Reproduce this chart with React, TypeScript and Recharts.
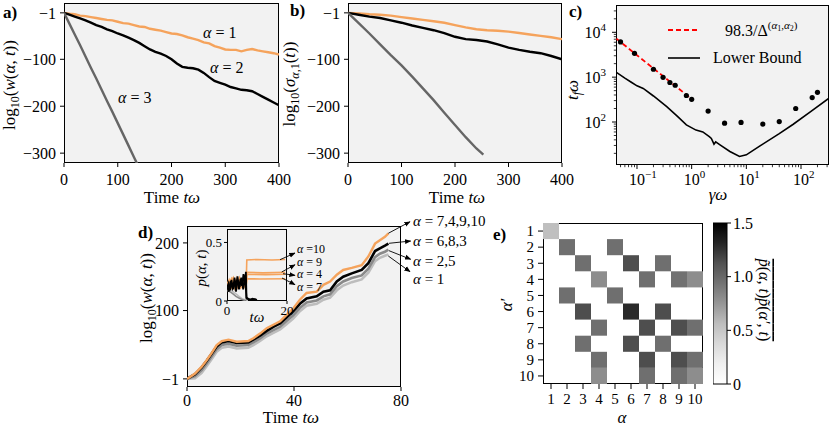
import React from 'react';
import { LineChart, Line, XAxis, YAxis, ComposedChart, Scatter, ReferenceArea } from 'recharts';

const FONT = '"Liberation Serif", "DejaVu Serif", serif';
const BG = '#f2f2f2';
const ORANGE = '#f5a35c';
const DARK_GRAY = '#666666';
const MID_GRAY = '#8a8a8a';
const LIGHT_GRAY = '#bdbdbd';

// a) log10 w(alpha, t)
const A_TIME = [0, 10, 20, 30, 40, 50, 60, 70, 80, 90, 100, 110, 120, 130, 140, 150, 160, 170, 180, 190, 200, 210, 220, 230, 240, 250, 260, 270, 280, 290, 300, 310, 320, 330, 340, 350, 360, 370, 380, 390, 400];
const A_ALPHA1 = [-1, -3, -4, -7, -8, -10, -12, -14, -16, -17, -20, -23, -24, -27, -30, -31, -35, -37, -39, -42, -45, -46, -49, -53, -56, -59, -64, -66, -72, -75, -79, -80, -80, -83, -80, -78, -81, -83, -85, -87, -90];
const A_ALPHA2 = [-1, -5, -9, -13, -17, -22, -27, -31, -36, -40, -45, -49, -54, -59, -65, -72, -79, -84, -88, -93, -100, -109, -116, -118, -119, -122, -129, -138, -146, -150, -154, -159, -162, -165, -166, -168, -174, -180, -186, -192, -198];
const A3_TIME = [0, 10, 20, 30, 40, 50, 60, 70, 80, 90, 100, 110, 120, 130, 140];
const A_ALPHA3 = [-1, -24, -47, -70, -94, -118, -141, -165, -189, -212, -236, -260, -284, -308, -332];

// b) log10 sigma_{alpha,1}(t)
const B_TIME = [0, 20, 40, 60, 80, 100, 120, 140, 160, 180, 200, 220, 240, 260, 280, 300, 320, 340, 360, 380, 400];
const B_ALPHA1 = [-1, -2, -4, -5, -7, -10, -13, -16, -19, -22, -27, -32, -36, -38, -39, -41, -44, -47, -50, -53, -57];
const B_ALPHA2 = [-1, -5, -9, -12, -17, -22, -28, -33, -38, -44, -52, -57, -59, -62, -68, -75, -80, -84, -87, -93, -100];
const B3_TIME = [0, 20, 40, 60, 80, 100, 120, 140, 160, 180, 200, 220, 240, 253];
const B_ALPHA3 = [-1, -23, -45, -68, -91, -113, -137, -162, -187, -214, -240, -266, -290, -303];
const LIN_TICKS = [0, 100, 200, 300, 400];
const NEG_TICKS = [-1, -100, -200, -300];

// c) t_f omega vs gamma omega
const C_LB_X = [0.0413, 0.06, 0.08, 0.1, 0.13, 0.2, 0.35, 0.55, 0.8, 1.2, 1.6, 2.1, 2.29, 2.56, 2.75, 3.3, 5, 7.5, 10, 17.5, 40, 71, 150, 325];
const C_LB_Y = [1300, 950, 760, 640, 560, 380, 220, 133, 86, 66, 60, 47, 43, 32, 36, 31, 22, 17, 18.5, 29, 55, 88, 170, 340];
const C_FIT_X = [0.042, 1.05];
const C_FIT_Y = [7200, 310];
const C_DOT_X = [0.05, 0.09, 0.2, 0.3, 0.4, 0.5, 0.8, 1, 2, 4, 8, 20, 40, 80, 160, 200];
const C_DOT_Y = [6100, 3400, 1500, 990, 760, 660, 390, 320, 175, 94, 98, 90, 102, 200, 350, 460];
const C_X_TICKS = [0.05, 0.06, 0.07, 0.08, 0.09, 0.1, 0.2, 0.3, 0.4, 0.5, 0.6, 0.7, 0.8, 0.9, 1, 2, 3, 4, 5, 6, 7, 8, 9, 10, 20, 30, 40, 50, 60, 70, 80, 90, 100, 200, 300];
const C_Y_TICKS = [20, 30, 40, 50, 60, 70, 80, 90, 100, 200, 300, 400, 500, 600, 700, 800, 900, 1000, 2000, 3000, 4000, 5000, 6000, 7000, 8000, 9000, 10000, 20000, 30000];

// d) log10 w(alpha, t) for ten states
const D_TIME = [0, 3, 5.5, 7.4, 9.2, 11.1, 13, 15.5, 18.6, 22.9, 24.8, 27.3, 29.8, 32.3, 34.8, 37.3, 39.7, 42.2, 44.7, 48.5, 51, 53.5, 56, 58.4, 61.6, 65.3, 67.8, 70.3, 72.1, 74, 75.3];
const D_A7_4_9_10 = [-1, 7, 17, 27, 37, 49, 55, 57, 54, 55, 59, 66, 74, 79, 84, 94, 103, 116, 126, 128, 138, 143, 153, 160, 163, 167, 180, 199, 204, 209, 214];
const D_A6_8_3 = [-1, 6, 16, 26, 36, 47, 53, 55, 52, 53, 57, 63, 70, 76, 81, 90, 99, 110, 118, 121, 128, 130, 143, 150, 155, 160, 170, 188, 192, 196, 199];
const D_A2_5 = [-1, 3, 12, 22, 32, 43, 49, 51, 48, 49, 53, 59, 66, 71, 76, 85, 93, 104, 112, 115, 121, 124, 136, 143, 148, 152, 162, 179, 184, 187, 190];
const D_A1 = [-1, 0, 8, 18, 28, 39, 45, 47, 44, 45, 49, 55, 62, 67, 72, 80, 88, 99, 107, 110, 116, 119, 130, 137, 142, 146, 156, 173, 178, 181, 183];
const D_TICKS_X = [0, 40, 80];
const D_TICKS_Y = [-1, 100, 200];

// d) inset p(alpha, t)
const IN_O10_T = [0, 0.7, 1.3, 2, 2.6, 3.3, 4, 4.6, 5.3, 6, 6.4, 6.6, 10, 15, 19.4];
const IN_O10_P = [0.14, 0.18, 0.12, 0.16, 0.11, 0.19, 0.13, 0.17, 0.12, 0.2, 0.16, 0.35, 0.355, 0.35, 0.355];
const IN_O9_T = [0, 0.8, 1.5, 2.2, 2.9, 3.6, 4.3, 5, 5.7, 6.4, 6.6, 12, 19.4];
const IN_O9_P = [0.1, 0.15, 0.19, 0.13, 0.17, 0.12, 0.18, 0.14, 0.16, 0.13, 0.245, 0.24, 0.245];
const IN_O4_T = [0, 0.6, 1.4, 2.1, 2.8, 3.5, 4.2, 4.9, 5.6, 6.4, 6.6, 13, 19.4];
const IN_O4_P = [0.16, 0.12, 0.17, 0.2, 0.14, 0.16, 0.2, 0.13, 0.18, 0.15, 0.228, 0.225, 0.228];
const IN_O7_T = [0, 0.9, 1.6, 2.4, 3.1, 3.8, 4.5, 5.2, 5.9, 6.4, 6.6, 11, 19.4];
const IN_O7_P = [0.12, 0.14, 0.11, 0.15, 0.1, 0.14, 0.11, 0.15, 0.12, 0.14, 0.19, 0.188, 0.19];
const IN_B1_T = [0, 0.5, 1, 1.5, 2, 2.5, 3, 3.5, 4, 4.5, 5, 5.5, 6, 6.3, 6.5, 7.5, 8.5, 10];
const IN_B1_P = [0.11, 0.15, 0.09, 0.18, 0.1, 0.2, 0.12, 0.21, 0.1, 0.19, 0.13, 0.23, 0.14, 0.25, 0.03, 0.01, 0.02, 0.01];
const IN_B2_T = [0, 0.6, 1.2, 1.8, 2.4, 3, 3.6, 4.2, 4.8, 5.4, 6, 6.5, 8, 9.5];
const IN_B2_P = [0.13, 0.08, 0.17, 0.11, 0.16, 0.08, 0.18, 0.12, 0.2, 0.1, 0.22, 0.02, 0.01, 0.015];
const IN_G1_T = [0, 1, 2, 3, 4, 5, 6, 7];
const IN_G1_P = [0.12, 0.1, 0.08, 0.06, 0.04, 0.02, 0.01, 0.005];
const IN_G2_T = [0, 1, 2, 3, 4, 5, 6];
const IN_G2_P = [0.09, 0.08, 0.06, 0.04, 0.025, 0.012, 0.005];

// e) correlation map, rows alpha' = 1..10, columns alpha = 1..10
const E_INDEX = [1, 2, 3, 4, 5, 6, 7, 8, 9, 10];
const E_ROWS = [
  [0.55, 0, 0, 0, 0, 0, 0, 0, 0, 0],
  [0, 0.96, 0, 0, 0.96, 0, 0, 0, 0, 0],
  [0, 0, 0.96, 0, 0, 1.14, 0, 0.96, 0, 0],
  [0, 0, 0, 0.8, 0, 0, 0.96, 0, 0.95, 0.8],
  [0, 0.96, 0, 0, 0.96, 0, 0, 0, 0, 0],
  [0, 0, 1.14, 0, 0, 1.29, 0, 1.14, 0, 0],
  [0, 0, 0, 0.96, 0, 0, 1.14, 0, 1.14, 0.96],
  [0, 0, 0.96, 0, 0, 1.14, 0, 0.96, 0, 0],
  [0, 0, 0, 0.96, 0, 0, 1.14, 0, 1.14, 0.96],
  [0, 0, 0, 0.8, 0, 0, 0.96, 0, 0.96, 0.8],
];
const CB_TICKS = [0, 0.5, 1, 1.5];
const GREYS = [255, 240, 217, 189, 150, 115, 82, 37, 0];

const pts = (xs: number[], ys: number[]) => xs.map((x, i) => ({ x, y: ys[i] }));
const minus = (v: number) => (v < 0 ? '\u2212' + Math.abs(v) : String(v));
const grey = (v: number) => {
  const f = Math.min(1, Math.max(0, v / 1.5)) * 8;
  const i = Math.min(7, Math.floor(f));
  const g = Math.round(GREYS[i] + (GREYS[i + 1] - GREYS[i]) * (f - i));
  return `rgb(${g},${g},${g})`;
};

type Box = { L: number; T: number; R: number; B: number };
const BOX_A: Box = { L: 64, T: 3, R: 279, B: 163 };
const BOX_B: Box = { L: 348, T: 3, R: 562, B: 163 };
const BOX_C: Box = { L: 616, T: 5, R: 829, B: 165 };
const BOX_D: Box = { L: 187, T: 226, R: 401, B: 387 };
const BOX_IN: Box = { L: 227, T: 229, R: 287, B: 301 };
const BOX_E: Box = { L: 543, T: 223, R: 703, B: 384 };
const BOX_CB: Box = { L: 713, T: 223, R: 727, B: 384 };

const place = (b: Box, yw: number, xh: number, mr: number, mt: number) => ({
  style: { position: 'absolute' as const, left: b.L - yw, top: b.T - mt },
  width: b.R - b.L + yw + mr,
  height: b.B - b.T + xh + mt,
  margin: { top: mt, right: mr, bottom: 0, left: 0 },
});

const Frame = ({ b, bg }: { b: Box; bg: string }) => (
  <div style={{ position: 'absolute', left: b.L, top: b.T, width: b.R - b.L, height: b.B - b.T, background: bg, border: '1px solid #000', boxSizing: 'border-box' }} />
);

const tick = (size: number) => ({ fill: '#000', fontSize: size, fontFamily: FONT });
const line = { dot: false, activeDot: false, isAnimationActive: false, dataKey: 'y', type: 'linear' as const };

const isMajor = (v: number) => Math.abs(Math.log10(v) - Math.round(Math.log10(v))) < 1e-6;
const expText = (v: number) => minus(Math.round(Math.log10(v)));

const LogTickX = (p: any) => {
  const v = p.payload.value;
  const major = isMajor(v);
  return (
    <g>
      <line x1={p.x} x2={p.x} y1={p.y} y2={p.y + (major ? 4 : 2.2)} stroke="#000" strokeWidth={major ? 1 : 0.8} />
      {major && (
        <text x={p.x - 8} y={p.y + 20} fontFamily={FONT} fontSize={16} fill="#000">
          10<tspan dy={-7} fontSize={11}>{expText(v)}</tspan>
        </text>
      )}
    </g>
  );
};

const LogTickY = (p: any) => {
  const v = p.payload.value;
  const major = isMajor(v);
  return (
    <g>
      <line x1={p.x - (major ? 4 : 2.2)} x2={p.x} y1={p.y} y2={p.y} stroke="#000" strokeWidth={major ? 1 : 0.8} />
      {major && (
        <text x={p.x - 10} y={p.y + 5.5} textAnchor="end" fontFamily={FONT} fontSize={16} fill="#000">
          10<tspan dy={-7} fontSize={11}>{expText(v)}</tspan>
        </text>
      )}
    </g>
  );
};

const Dot = (p: any) => <circle cx={p.cx} cy={p.cy} r={2.6} fill="#000" />;
const Nothing = () => <g />;

function PanelA() {
  const pl = place(BOX_A, 64, 30, 16, 3);
  return (
    <div style={pl.style}>
      <LineChart width={pl.width} height={pl.height} margin={pl.margin}>
        <XAxis dataKey="x" type="number" domain={[0, 400]} ticks={LIN_TICKS} interval={0} allowDataOverflow axisLine={false} tickLine={{ stroke: '#000' }} tickSize={4} tickMargin={7} height={30} tick={tick(16)} />
        <YAxis type="number" domain={[-321, 20]} ticks={NEG_TICKS} interval={0} allowDataOverflow axisLine={false} tickLine={{ stroke: '#000' }} tickSize={4} tickMargin={4} width={64} tick={tick(16)} tickFormatter={minus} />
        <Line {...line} data={pts(A_TIME, A_ALPHA1)} stroke={ORANGE} strokeWidth={2.4} />
        <Line {...line} data={pts(A_TIME, A_ALPHA2)} stroke="#000" strokeWidth={2.4} />
        <Line {...line} data={pts(A3_TIME, A_ALPHA3)} stroke={DARK_GRAY} strokeWidth={2.4} />
      </LineChart>
    </div>
  );
}

function PanelB() {
  const pl = place(BOX_B, 60, 30, 16, 3);
  return (
    <div style={pl.style}>
      <LineChart width={pl.width} height={pl.height} margin={pl.margin}>
        <XAxis dataKey="x" type="number" domain={[0, 400]} ticks={LIN_TICKS} interval={0} allowDataOverflow axisLine={false} tickLine={{ stroke: '#000' }} tickSize={4} tickMargin={7} height={30} tick={tick(16)} />
        <YAxis type="number" domain={[-321, 20]} ticks={NEG_TICKS} interval={0} allowDataOverflow axisLine={false} tickLine={{ stroke: '#000' }} tickSize={4} tickMargin={4} width={60} tick={tick(16)} tickFormatter={minus} />
        <Line {...line} data={pts(B_TIME, B_ALPHA1)} stroke={ORANGE} strokeWidth={2.4} />
        <Line {...line} data={pts(B_TIME, B_ALPHA2)} stroke="#000" strokeWidth={2.4} />
        <Line {...line} data={pts(B3_TIME, B_ALPHA3)} stroke={DARK_GRAY} strokeWidth={2.4} />
      </LineChart>
    </div>
  );
}

function PanelC() {
  const pl = place(BOX_C, 50, 30, 1, 5);
  return (
    <div style={pl.style}>
      <ComposedChart width={pl.width} height={pl.height} margin={pl.margin}>
        <XAxis dataKey="x" type="number" scale="log" domain={[0.0413, 325]} ticks={C_X_TICKS} interval={0} allowDataOverflow axisLine={false} tickLine={false} tickSize={0} tickMargin={0} height={30} tick={LogTickX} />
        <YAxis dataKey="y" type="number" scale="log" domain={[11, 40600]} ticks={C_Y_TICKS} interval={0} allowDataOverflow axisLine={false} tickLine={false} tickSize={0} tickMargin={0} width={50} tick={LogTickY} />
        <Line {...line} data={pts(C_LB_X, C_LB_Y)} stroke="#000" strokeWidth={1.6} />
        <Line {...line} data={pts(C_FIT_X, C_FIT_Y)} stroke="#ff0000" strokeWidth={1.8} strokeDasharray="5 3" />
        <Scatter data={pts(C_DOT_X, C_DOT_Y)} shape={Dot} isAnimationActive={false} />
      </ComposedChart>
    </div>
  );
}

function PanelD() {
  const pl = place(BOX_D, 45, 25, 14, 10);
  return (
    <div style={pl.style}>
      <LineChart width={pl.width} height={pl.height} margin={pl.margin}>
        <XAxis dataKey="x" type="number" domain={[0, 80]} ticks={D_TICKS_X} interval={0} allowDataOverflow axisLine={false} tickLine={{ stroke: '#000' }} tickSize={4} tickMargin={4} height={25} tick={tick(16)} />
        <YAxis type="number" domain={[-13, 225]} ticks={D_TICKS_Y} interval={0} allowDataOverflow axisLine={false} tickLine={{ stroke: '#000' }} tickSize={4} tickMargin={4} width={45} tick={tick(16)} tickFormatter={minus} />
        <Line {...line} data={pts(D_TIME, D_A1)} stroke={LIGHT_GRAY} strokeWidth={2.6} />
        <Line {...line} data={pts(D_TIME, D_A2_5)} stroke={MID_GRAY} strokeWidth={2.6} />
        <Line {...line} data={pts(D_TIME, D_A6_8_3)} stroke="#000" strokeWidth={2.6} />
        <Line {...line} data={pts(D_TIME, D_A7_4_9_10)} stroke={ORANGE} strokeWidth={2.4} />
      </LineChart>
    </div>
  );
}

function Inset() {
  const pl = place(BOX_IN, 30, 18, 10, 4);
  return (
    <div style={pl.style}>
      <LineChart width={pl.width} height={pl.height} margin={pl.margin}>
        <XAxis dataKey="x" type="number" domain={[0, 20]} ticks={[0, 20]} interval={0} allowDataOverflow axisLine={false} tickLine={{ stroke: '#000' }} tickSize={3} tickMargin={2} height={18} tick={tick(13)} />
        <YAxis type="number" domain={[0, 0.615]} ticks={[0, 0.5]} interval={0} allowDataOverflow axisLine={false} tickLine={{ stroke: '#000' }} tickSize={3} tickMargin={2} width={30} tick={tick(13)} />
        <Line {...line} data={pts(IN_G1_T, IN_G1_P)} stroke={LIGHT_GRAY} strokeWidth={1.6} />
        <Line {...line} data={pts(IN_G2_T, IN_G2_P)} stroke={MID_GRAY} strokeWidth={1.6} />
        <Line {...line} data={pts(IN_O10_T, IN_O10_P)} stroke={ORANGE} strokeWidth={1.6} />
        <Line {...line} data={pts(IN_O9_T, IN_O9_P)} stroke={ORANGE} strokeWidth={1.6} />
        <Line {...line} data={pts(IN_O4_T, IN_O4_P)} stroke={ORANGE} strokeWidth={1.6} />
        <Line {...line} data={pts(IN_O7_T, IN_O7_P)} stroke={ORANGE} strokeWidth={1.6} />
        <Line {...line} data={pts(IN_B1_T, IN_B1_P)} stroke="#000" strokeWidth={1.8} />
        <Line {...line} data={pts(IN_B2_T, IN_B2_P)} stroke="#000" strokeWidth={1.8} />
      </LineChart>
    </div>
  );
}

function PanelE() {
  const pl = place(BOX_E, 40, 25, 10, 5);
  const cells: { x: number; y: number; v: number }[] = [];
  E_ROWS.forEach((row, r) => row.forEach((v, c) => { if (v > 0) cells.push({ x: E_INDEX[c], y: E_INDEX[r], v }); }));
  return (
    <div style={pl.style}>
      <ComposedChart width={pl.width} height={pl.height} margin={pl.margin}>
        <XAxis dataKey="x" type="number" domain={[0.5, 10.5]} ticks={E_INDEX} interval={0} allowDataOverflow axisLine={false} tickLine={{ stroke: '#000' }} tickSize={5} tickMargin={4} height={25} tick={tick(15)} />
        <YAxis dataKey="y" type="number" reversed domain={[0.5, 10.5]} ticks={E_INDEX} interval={0} allowDataOverflow axisLine={false} tickLine={{ stroke: '#000' }} tickSize={5} tickMargin={4} width={40} tick={tick(15)} />
        {cells.map((c, i) => (
          <ReferenceArea key={i} x1={c.x - 0.5} x2={c.x + 0.5} y1={c.y - 0.5} y2={c.y + 0.5} fill={grey(c.v)} fillOpacity={1} stroke="none" />
        ))}
        <Scatter data={cells} shape={Nothing} isAnimationActive={false} />
      </ComposedChart>
    </div>
  );
}

function ColorBar() {
  const b = BOX_CB;
  const axisW = 35;
  const pad = 12;
  return (
    <div style={{ position: 'absolute', left: b.L, top: b.T - pad }}>
      <ComposedChart width={b.R - b.L + axisW} height={b.B - b.T + 2 * pad} margin={{ top: pad, right: 0, bottom: pad, left: 0 }}>
        <defs>
          <linearGradient id="greysCb" x1="0" y1="1" x2="0" y2="0">
            {GREYS.map((g, i) => (
              <stop key={i} offset={i / 8} stopColor={`rgb(${g},${g},${g})`} />
            ))}
          </linearGradient>
        </defs>
        <XAxis dataKey="x" type="number" domain={[0, 1]} hide />
        <YAxis dataKey="y" orientation="right" type="number" domain={[0, 1.5]} ticks={CB_TICKS} interval={0} axisLine={false} tickLine={{ stroke: '#000' }} tickSize={4} tickMargin={2} width={axisW} tick={{ ...tick(16), textAnchor: 'start' }} tickFormatter={(v: number) => (v === 0 ? '0' : v.toFixed(1))} />
        <ReferenceArea x1={0} x2={1} y1={0} y2={1.5} fill="url(#greysCb)" fillOpacity={1} stroke="#000" strokeWidth={1} />
        <Scatter data={[{ x: 0.5, y: 0 }, { x: 0.5, y: 1.5 }]} shape={Nothing} isAnimationActive={false} />
      </ComposedChart>
    </div>
  );
}

const I = ({ children }: { children: React.ReactNode }) => <tspan fontStyle="italic">{children}</tspan>;

function Overlay() {
  const arrow = { stroke: '#000', strokeWidth: 0.9, markerEnd: 'url(#ah)' };
  return (
    <svg width={830} height={426} style={{ position: 'absolute', left: 0, top: 0, pointerEvents: 'none' }} fontFamily={FONT} fill="#000">
      <defs>
        <marker id="ah" viewBox="0 0 10 10" refX="9" refY="5" markerWidth="7" markerHeight="7" orient="auto">
          <path d="M0,1 L10,5 L0,9 z" fill="#000" />
        </marker>
      </defs>
      {/* panel letters */}
      <text x={3} y={18} fontSize={17} fontWeight="bold">a)</text>
      <text x={290} y={16} fontSize={17} fontWeight="bold">b)</text>
      <text x={569} y={17} fontSize={17} fontWeight="bold">c)</text>
      <text x={138} y={238} fontSize={17} fontWeight="bold">d)</text>
      <text x={493} y={240} fontSize={17} fontWeight="bold">e)</text>

      {/* a */}
      <text transform="rotate(-90 15 85)" x={15} y={85} textAnchor="middle" fontSize={17}>
        log<tspan dy={4} fontSize={12}>10</tspan><tspan dy={-4}>(</tspan><I>w</I>(<I>α</I>, <I>t</I>))
      </text>
      <text x={172} y={203} textAnchor="middle" fontSize={17}>Time <I>tω</I></text>
      <text x={203} y={38} fontSize={16}><I>α</I> = 1</text>
      <text x={210} y={73} fontSize={16}><I>α</I> = 2</text>
      <text x={118} y={103} fontSize={16}><I>α</I> = 3</text>

      {/* b */}
      <text transform="rotate(-90 295 84)" x={295} y={84} textAnchor="middle" fontSize={17}>
        log<tspan dy={4} fontSize={12}>10</tspan><tspan dy={-4}>(</tspan><I>σ</I><tspan dy={4} fontSize={12}><I>α</I>,1</tspan><tspan dy={-4}>(</tspan><I>t</I>))
      </text>
      <text x={457} y={203} textAnchor="middle" fontSize={17}>Time <I>tω</I></text>

      {/* c */}
      <text transform="rotate(-90 578 90)" x={578} y={90} textAnchor="middle" fontSize={17}>
        <I>t</I><tspan dy={3} fontSize={12} fontStyle="italic">f</tspan><tspan dy={-3} fontStyle="italic">ω</tspan>
      </text>
      <text x={718} y={200} textAnchor="middle" fontSize={17}><I>γω</I></text>
      <line x1={668} x2={700} y1={30} y2={30} stroke="#ff0000" strokeWidth={1.8} strokeDasharray="5 3" />
      <text x={725} y={36} fontSize={16}>
        98.3/Δ<tspan dy={-7} fontSize={11}>(</tspan><tspan fontSize={11} fontStyle="italic">α</tspan><tspan dy={2} fontSize={8}>1</tspan><tspan dy={-2} fontSize={11}>,</tspan><tspan fontSize={11} fontStyle="italic">α</tspan><tspan dy={2} fontSize={8}>2</tspan><tspan dy={-2} fontSize={11}>)</tspan>
      </text>
      <line x1={668} x2={700} y1={58} y2={58} stroke="#000" strokeWidth={1.6} />
      <text x={713} y={63} fontSize={16}>Lower Bound</text>

      {/* d */}
      <text transform="rotate(-90 152 298)" x={152} y={298} textAnchor="middle" fontSize={17}>
        log<tspan dy={4} fontSize={12}>10</tspan><tspan dy={-4}>(</tspan><I>w</I>(<I>α</I>, <I>t</I>))
      </text>
      <text x={291} y={423} textAnchor="middle" fontSize={17}>Time <I>tω</I></text>
      <text transform="rotate(-90 206 268)" x={206} y={268} textAnchor="middle" fontSize={15}>
        <I>p</I>(<I>α</I>, <I>t</I>)
      </text>
      <text x={257} y={322} textAnchor="middle" fontSize={15}><I>tω</I></text>
      <line x1={280} y1={259.7} x2={295} y2={253} {...arrow} />
      <line x1={281.7} y1={272} x2={295} y2={264.7} {...arrow} />
      <line x1={283} y1={273.7} x2={295} y2={275.3} {...arrow} />
      <line x1={282} y1={278} x2={295} y2={284.7} {...arrow} />
      <text x={297} y={253} fontSize={12}><I>α</I> =10</text>
      <text x={297} y={265.5} fontSize={12}><I>α</I> = 9</text>
      <text x={297} y={278} fontSize={12}><I>α</I> = 4</text>
      <text x={297} y={290.5} fontSize={12}><I>α</I> = 7</text>
      <line x1={388.3} y1={233.3} x2={410} y2={221.7} {...arrow} />
      <line x1={389} y1={243.3} x2={410.7} y2={241} {...arrow} />
      <line x1={389} y1={250.7} x2={410.7} y2={259.3} {...arrow} />
      <line x1={388.3} y1={256} x2={410} y2={271.7} {...arrow} />
      <text x={413} y={226} fontSize={15}><I>α</I> = 7,4,9,10</text>
      <text x={413} y={246} fontSize={15}><I>α</I> = 6,8,3</text>
      <text x={413} y={266} fontSize={15}><I>α</I> = 2,5</text>
      <text x={413} y={284} fontSize={15}><I>α</I> = 1</text>

      {/* e */}
      <text transform="rotate(-90 512 305)" x={512} y={305} textAnchor="middle" fontSize={17}><I>α′</I></text>
      <text x={622} y={423} textAnchor="middle" fontSize={17}><I>α</I></text>
      <text transform="rotate(90 759 300)" x={759} y={300} textAnchor="middle" fontSize={16} style={{ textDecoration: 'overline' }}>
        <I>p̃</I>(<I>α</I>, <I>t</I>)<I>p̃</I>(<I>α′</I>, <I>t</I>)
      </text>
    </svg>
  );
}

export default function App() {
  return (
    <div style={{ position: 'absolute', left: 0, top: 0, width: 830, height: 426, background: '#fff', overflow: 'hidden', fontFamily: FONT }}>
      <Frame b={BOX_A} bg={BG} />
      <PanelA />
      <Frame b={BOX_B} bg={BG} />
      <PanelB />
      <Frame b={BOX_C} bg={BG} />
      <PanelC />
      <Frame b={BOX_D} bg={BG} />
      <PanelD />
      <Frame b={BOX_IN} bg={BG} />
      <Inset />
      <Frame b={BOX_E} bg="#fff" />
      <PanelE />
      <ColorBar />
      <Overlay />
    </div>
  );
}
